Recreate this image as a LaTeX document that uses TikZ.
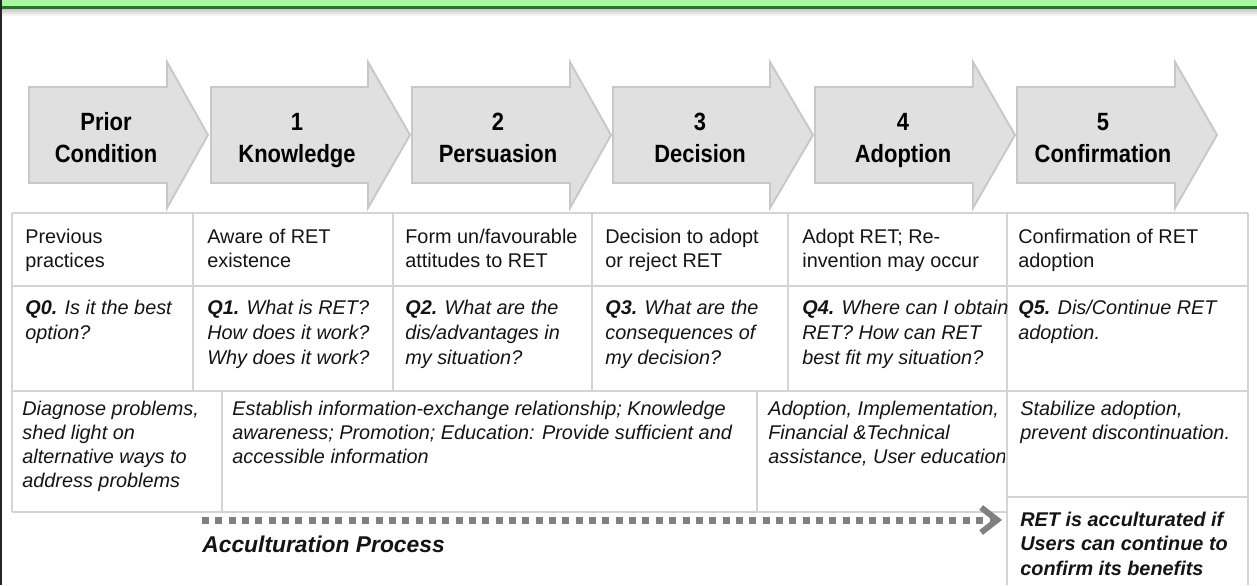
\documentclass[tikz,border=0pt]{standalone}
\usepackage{fontspec}
\setmainfont{Liberation Sans}
\usetikzlibrary{arrows.meta}
\definecolor{barA}{HTML}{A8F5A2}
\definecolor{barB}{HTML}{1F7A26}
\definecolor{arrF}{HTML}{E0E0E0}
\definecolor{arrD}{HTML}{C8C8C8}
\definecolor{gridC}{HTML}{D4D4D4}
\definecolor{dotC}{HTML}{808080}
\definecolor{txt}{HTML}{141414}

\tikzset{
  stage/.style={fill=arrF,draw=arrD,line width=1.1pt,line join=miter},
  phase/.style={anchor=base,align=center,inner sep=0pt,xscale=0.88,transform shape,
    font=\fontsize{14.2}{18.14}\selectfont\bfseries},
  cell/.style={anchor=base west,align=left,inner sep=0pt,text=txt,
    font=\fontsize{11.3}{13.6}\selectfont},
  qcell/.style={cell,font=\fontsize{11.3}{14.17}\selectfont\itshape},
  acell/.style={cell,font=\fontsize{11.3}{13.6}\selectfont\itshape},
  grid/.style={draw=gridC,line width=0.75pt},
  accline/.style={dotC,line width=0.14cm,dash pattern=on 0.14cm off 0.127cm,
    -{Straight Barb[length=0.32cm,width=0.5cm,line width=0.12cm]}}
}

\begin{document}
\begin{tikzpicture}[x=0.02cm,y=-0.02cm]
  \useasboundingbox (0,0) rectangle (1257,585);

  % title bar (cut off) and frame
  \fill[barA] (0,0) rectangle (1257,6);
  \draw[barB,line width=1.7pt] (0,7.5) -- (1257,7.5);
  \shade[top color=black!22,bottom color=white] (0,9) rectangle (1257,16);
  \draw[black!85,line width=1.2pt] (1.2,0) -- (1.2,585);

  % stage arrows
  \foreach \l/\h/\t in {29/167/208,211/368/410,412/570/611,613/770/813,815/973/1015,1017/1175/1217}
    \draw[stage] (\l,87) -- (\h,87) -- (\h,62) -- (\t,135) -- (\h,208) -- (\h,183) -- (\l,183) -- cycle;

  % base = last line
  \node[phase] (prior)    at (106,162)  {Prior\\Condition};
  \node[phase] (know)     at (297,162)  {1\\Knowledge};
  \node[phase] (persuade) at (498,162)  {2\\Persuasion};
  \node[phase] (decide)   at (700,162)  {3\\Decision};
  \node[phase] (adopt)    at (903,162)  {4\\Adoption};
  \node[phase] (confirm)  at (1103,162) {5\\Confirmation};

  % table grid
  \draw[grid] (12,213) -- (1248,213);
  \draw[grid] (12,286) -- (1248,286);
  \draw[grid] (12,391) -- (1248,391);
  \draw[grid] (12,512) -- (1007,512);
  \draw[grid] (1007,497) -- (1248,497);
  \draw[grid] (12,213) -- (12,512);
  \draw[grid] (1248,213) -- (1248,585);
  \foreach \x in {193,393,592,788}
    \draw[grid] (\x,213) -- (\x,391);
  \draw[grid] (1007,213) -- (1007,585);
  \draw[grid] (222,391) -- (222,512);
  \draw[grid] (757,391) -- (757,512);

  % row 1: stage
  \node[cell] (sta0) at (25,267)   {Previous\\practices};
  \node[cell] (sta1) at (207,267)  {Aware of RET\\existence};
  \node[cell] (sta2) at (405,267)  {Form un/favourable\\attitudes to RET};
  \node[cell] (sta3) at (605,267)  {Decision to adopt\\or reject RET};
  \node[cell] (sta4) at (802,267)  {Adopt RET; Re-\\invention may occur};
  \node[cell] (sta5) at (1018,267) {Confirmation of RET\\adoption};

  % row 2: questions
  \node[qcell] (que0) at (25,339)   {\textbf{Q0.} Is it the best\\option?};
  \node[qcell] (que1) at (207,364)  {\textbf{Q1.} What is RET?\\How does it work?\\Why does it work?};
  \node[qcell] (que2) at (405,364)  {\textbf{Q2.} What are the\\dis/advantages in\\my situation?};
  \node[qcell] (que3) at (605,364)  {\textbf{Q3.} What are the\\consequences of\\my decision?};
  \node[qcell] (que4) at (802,364)  {\textbf{Q4.} Where can I obtain\\RET? How can RET\\best fit my situation?};
  \node[qcell] (que5) at (1018,339) {\textbf{Q5.} Dis/Continue RET\\adoption.};

  % row 3: actions
  \node[acell] (act0) at (22,487)   {Diagnose problems,\\shed light on\\alternative ways to\\address problems};
  \node[acell] (act1) at (232,463)  {Establish information-exchange relationship; Knowledge\\awareness; Promotion; Education: Provide sufficient and\\accessible information};
  \begin{scope}
    \clip (757,391) rectangle (1004,512);
    \node[acell] (act2) at (768,463) {Adoption, Implementation,\\Financial \&Technical\\assistance, User education};
  \end{scope}
  \node[acell] (act3) at (1020,439) {Stabilize adoption,\\prevent discontinuation.};
  \node[acell,font=\fontsize{11.3}{13.9}\selectfont\bfseries\itshape] (goal) at (1020,575)
    {RET is acculturated if\\Users can continue to\\confirm its benefits};

  % acculturation process
  \coordinate (accA) at (202,520);
  \coordinate (accB) at (1002,520);
  \draw[accline] (accA) -- (accB);
  \node[anchor=base west,inner sep=0pt,text=txt,font=\fontsize{13}{15}\selectfont\bfseries\itshape]
    (acclbl) at (202,552) {Acculturation Process};

\end{tikzpicture}
\end{document}
